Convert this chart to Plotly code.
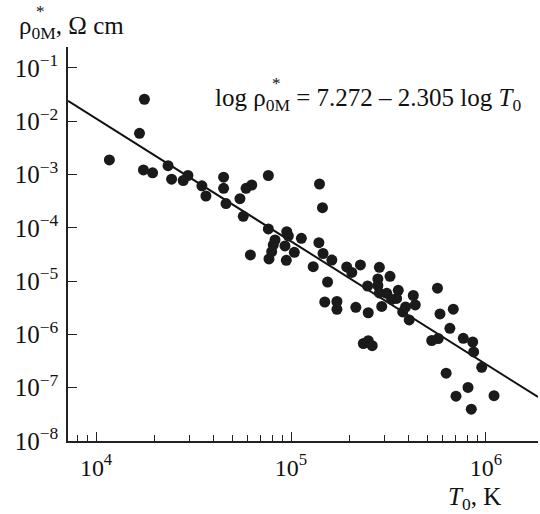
import plotly.graph_objects as go
import numpy as np

# Data (T0 in K, rho*_0M in Ohm cm)
T0 = [1.17e4, 1.67e4, 1.77e4, 1.75e4, 1.95e4, 2.34e4, 2.44e4, 2.80e4, 2.96e4, 3.49e4,
      3.66e4, 4.51e4, 4.51e4, 4.64e4, 5.47e4, 5.88e4, 6.29e4, 5.69e4, 7.65e4, 7.65e4,
      6.19e4, 1.40e5, 1.45e5, 9.51e4, 9.69e4, 8.28e4, 8.11e4, 9.31e4, 1.13e5, 7.96e4,
      7.71e4, 9.46e4, 1.04e5, 1.39e5, 1.30e5, 1.46e5, 1.62e5, 1.54e5, 1.93e5, 2.05e5,
      2.27e5, 2.84e5, 3.22e5, 2.79e5, 2.47e5, 2.79e5, 3.10e5, 3.55e5, 2.84e5, 3.28e5,
      3.48e5, 4.24e5, 3.87e5, 4.34e5, 3.74e5, 4.04e5, 1.49e5, 1.72e5, 1.72e5, 2.15e5,
      2.49e5, 2.92e5, 2.35e5, 2.49e5, 2.61e5, 5.64e5, 5.81e5, 6.80e5, 6.53e5, 5.27e5,
      5.69e5, 7.65e5, 8.55e5, 8.65e5, 9.51e5, 6.25e5, 8.09e5, 7.02e5, 1.10e6, 8.41e5]
rho = [1.88e-3, 5.95e-3, 2.59e-2, 1.22e-3, 1.08e-3, 1.47e-3, 8.19e-4, 7.74e-4, 9.61e-4, 6.15e-4,
       3.96e-4, 8.93e-4, 5.53e-4, 2.86e-4, 3.52e-4, 5.53e-4, 6.37e-4, 1.65e-4, 9.61e-4, 9.53e-5,
       3.10e-5, 6.65e-4, 2.39e-4, 8.47e-5, 7.04e-5, 5.92e-5, 4.77e-5, 4.57e-5, 6.37e-5, 3.57e-5,
       2.61e-5, 2.46e-5, 3.48e-5, 5.27e-5, 1.87e-5, 3.30e-5, 2.49e-5, 9.64e-6, 1.85e-5, 1.46e-5,
       2.01e-5, 1.82e-5, 1.23e-5, 1.10e-5, 8.11e-6, 8.29e-6, 5.92e-6, 6.73e-6, 6.00e-6, 4.53e-6,
       4.73e-6, 5.38e-6, 3.27e-6, 3.57e-6, 2.64e-6, 1.87e-6, 4.06e-6, 4.15e-6, 2.96e-6, 3.23e-6,
       2.55e-6, 3.35e-6, 6.76e-7, 7.64e-7, 6.15e-7, 7.38e-6, 2.42e-6, 2.98e-6, 1.30e-6, 7.69e-7,
       8.39e-7, 8.47e-7, 7.21e-7, 4.69e-7, 2.42e-7, 1.87e-7, 1.01e-7, 6.94e-8, 7.10e-8, 3.95e-8]

fit_intercept = 7.272
fit_slope = -2.305

x_range_log = [3.856, 6.267]
y_range_log = [-8, -0.606]

x_tickvals = [1e4, 1e5, 1e6]
x_ticktext = ["10<sup>4</sup>", "10<sup>5</sup>", "10<sup>6</sup>"]
y_tickvals = [1e-8, 1e-7, 1e-6, 1e-5, 1e-4, 1e-3, 1e-2, 1e-1]
y_ticktext = ["10<sup>\u22128</sup>", "10<sup>\u22127</sup>", "10<sup>\u22126</sup>",
              "10<sup>\u22125</sup>", "10<sup>\u22124</sup>", "10<sup>\u22123</sup>",
              "10<sup>\u22122</sup>", "10<sup>\u22121</sup>"]

T_line = np.logspace(x_range_log[0], x_range_log[1], 50)
rho_line = 10 ** (fit_intercept + fit_slope * np.log10(T_line))

FONT = "Liberation Serif"
FS = 24

fig = go.Figure()
fig.add_trace(go.Scatter(x=T_line, y=rho_line, mode="lines",
                         line=dict(color="#111", width=2), hoverinfo="skip"))
fig.add_trace(go.Scatter(x=T0, y=rho, mode="markers",
                         marker=dict(color="#1a1a1a", size=11, line=dict(width=0))))

fig.update_layout(
    width=540, height=514,
    margin=dict(l=68, r=2, t=47, b=73),
    paper_bgcolor="white", plot_bgcolor="white",
    showlegend=False,
    font=dict(family=FONT, size=FS, color="#111"),
)
fig.update_xaxes(
    type="log", range=x_range_log,
    showgrid=False, zeroline=False,
    showline=True, linecolor="#222", linewidth=1.5,
    ticks="inside", ticklen=9, tickwidth=1.2, tickcolor="#222",
    tickvals=x_tickvals, ticktext=x_ticktext,
    ticklabelstandoff=4,
    minor=dict(ticks="inside", ticklen=6, tickwidth=1.2, tickcolor="#222",
               tickvals=[m * 10 ** e for e in (3, 4, 5, 6) for m in range(2, 10)
                         if x_range_log[0] <= np.log10(m * 10 ** e) <= x_range_log[1]],
               showgrid=False),
    tickfont=dict(family=FONT, size=FS, color="#111"),
)
fig.update_yaxes(
    type="log", range=y_range_log,
    showgrid=False, zeroline=False,
    showline=True, linecolor="#222", linewidth=1.5,
    ticks="inside", ticklen=9, tickwidth=1.2, tickcolor="#222",
    tickvals=y_tickvals, ticktext=y_ticktext,
    ticklabelstandoff=3,
    tickfont=dict(family=FONT, size=25, color="#111"),
)

ann_font = dict(family=FONT, size=25, color="#111")
star_font = dict(family=FONT, size=17, color="#111")
fig.add_annotation(xref="paper", yref="paper", x=-0.1085, y=1.05,
                   xanchor="left", yanchor="middle", showarrow=False,
                   text="\u03c1<sub>0M</sub>, \u03a9 cm", font=ann_font)
fig.add_annotation(xref="paper", yref="paper", x=-0.0585, y=1.09,
                   xanchor="center", yanchor="middle", showarrow=False,
                   text="*", font=star_font)
fig.add_annotation(xref="paper", yref="paper", x=0.3085, y=0.866,
                   xanchor="left", yanchor="middle", showarrow=False,
                   text="log \u03c1<sub>0M</sub> = 7.272 \u2013 2.305 log <i>T</i><sub>0</sub>",
                   font=ann_font)
fig.add_annotation(xref="paper", yref="paper", x=0.444, y=0.908,
                   xanchor="center", yanchor="middle", showarrow=False,
                   text="*", font=star_font)
fig.add_annotation(xref="paper", yref="paper", x=0.9255, y=-0.147,
                   xanchor="right", yanchor="middle", showarrow=False,
                   text="<i>T</i><sub>0</sub>, K", font=ann_font)

fig.write_html("out.html")
